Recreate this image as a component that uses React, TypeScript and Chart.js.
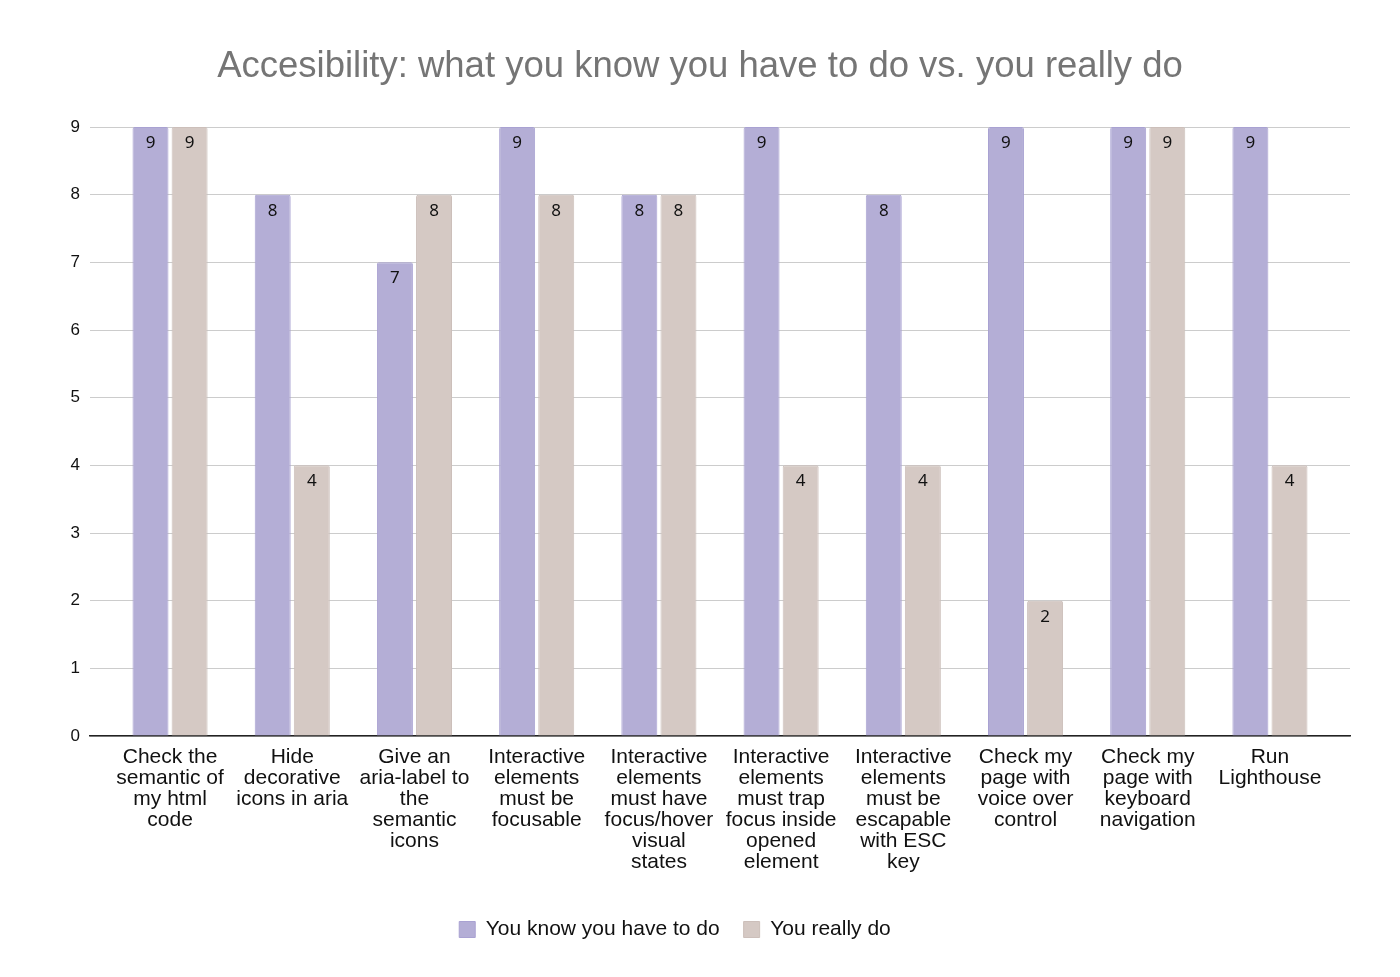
import React, { useEffect, useRef } from "react";
import { Chart, registerables } from "chart.js";

Chart.register(...registerables);

const chartTitle = "Accesibility: what you know you have to do vs. you really do";

const categories: string[][] = [
  ["Check the", "semantic of", "my html", "code"],
  ["Hide", "decorative", "icons in aria"],
  ["Give an", "aria-label to", "the", "semantic", "icons"],
  ["Interactive", "elements", "must be", "focusable"],
  ["Interactive", "elements", "must have", "focus/hover", "visual", "states"],
  ["Interactive", "elements", "must trap", "focus inside", "opened", "element"],
  ["Interactive", "elements", "must be", "escapable", "with ESC", "key"],
  ["Check my", "page with", "voice over", "control"],
  ["Check my", "page with", "keyboard", "navigation"],
  ["Run", "Lighthouse"],
];

const knowValues = [9, 8, 7, 9, 8, 9, 8, 9, 9, 9];
const reallyValues = [9, 4, 8, 8, 8, 4, 4, 2, 9, 4];

const seriesNames = ["You know you have to do", "You really do"];
const yTicks = [0, 1, 2, 3, 4, 5, 6, 7, 8, 9];

const FONT = "'Liberation Sans', Arial, sans-serif";

const valueLabels = {
  id: "valueLabels",
  afterDatasetsDraw(chart: any) {
    const ctx = chart.ctx;
    ctx.save();
    ctx.font = `17px 'Noto Sans', 'Open Sans', sans-serif`;
    ctx.fillStyle = "#111";
    ctx.textAlign = "center";
    ctx.textBaseline = "middle";
    chart.data.datasets.forEach((ds: any, di: number) => {
      const meta = chart.getDatasetMeta(di);
      meta.data.forEach((el: any, i: number) => {
        const v = ds.data[i].y;
        ctx.fillText(String(v), el.x, el.y + 16);
      });
    });
    ctx.restore();
  },
};

const centeredTitle = {
  id: "centeredTitle",
  afterDraw(chart: any) {
    const ctx = chart.ctx;
    ctx.save();
    ctx.font = `36.5px ${FONT}`;
    ctx.fillStyle = "#757575";
    ctx.textAlign = "center";
    ctx.textBaseline = "middle";
    ctx.fillText(chartTitle, chart.width / 2, 67);
    ctx.restore();
  },
};

export default function App() {
  const ref = useRef<HTMLCanvasElement | null>(null);
  useEffect(() => {
    if (!ref.current) return;
    const chart = new Chart(ref.current, {
      type: "bar",
      data: {
        datasets: [
          {
            label: seriesNames[0],
            data: knowValues.map((v, i) => ({ x: i, y: v })),
            backgroundColor: "#b4aed6",
            borderColor: "#a9a2d2",
            borderWidth: 1,
            borderRadius: 2,
            borderSkipped: "bottom",
            categoryPercentage: 0.64,
            barPercentage: 0.92,
          },
          {
            label: seriesNames[1],
            data: reallyValues.map((v, i) => ({ x: i, y: v })),
            backgroundColor: "#d5c9c4",
            borderColor: "#ccbfba",
            borderWidth: 1,
            borderRadius: 2,
            borderSkipped: "bottom",
            categoryPercentage: 0.64,
            barPercentage: 0.92,
          },
        ],
      },
      options: {
        animation: false,
        responsive: true,
        maintainAspectRatio: false,
        layout: { padding: { left: 0, right: 50, top: 127, bottom: 27 } },
        plugins: {
          title: { display: false },
          legend: {
            position: "bottom",
            labels: {
              color: "#111",
              font: { family: FONT, size: 21 },
              boxWidth: 16,
              boxHeight: 16,
              padding: 24,
            },
          },
          tooltip: { enabled: false },
        },
        scales: {
          x: {
            type: "linear",
            min: -0.655,
            max: 9.655,
            offset: false,
            afterBuildTicks: (scale: any) => {
              scale.ticks = categories.map((_, i) => ({ value: i }));
            },
            afterFit: (scale: any) => {
              scale.height = scale.height + 19;
            },
            ticks: {
              autoSkip: false,
              maxRotation: 0,
              color: "#111",
              font: { family: FONT, size: 21, lineHeight: 1.0 },
              padding: 3,
              callback: (v: any) => categories[Math.round(Number(v))] || "",
            },
            grid: { display: false },
            border: { display: true, color: "#222", width: 1.5 },
          },
          y: {
            min: 0,
            max: 9,
            afterBuildTicks: (scale: any) => {
              scale.ticks = yTicks.map((v) => ({ value: v }));
            },
            afterFit: (scale: any) => {
              scale.width = 90;
            },
            ticks: {
              color: "#111",
              font: { family: FONT, size: 17 },
              padding: 10,
            },
            grid: { color: "#cccccc", drawTicks: false, lineWidth: 1 },
            border: { display: false },
          },
        },
      },
      plugins: [valueLabels, centeredTitle],
    });
    return () => chart.destroy();
  }, []);
  return (
    <div style={{ position: "fixed", left: 0, top: 0, width: 1400, height: 977, background: "#fff" }}>
      <canvas ref={ref} />
    </div>
  );
}
